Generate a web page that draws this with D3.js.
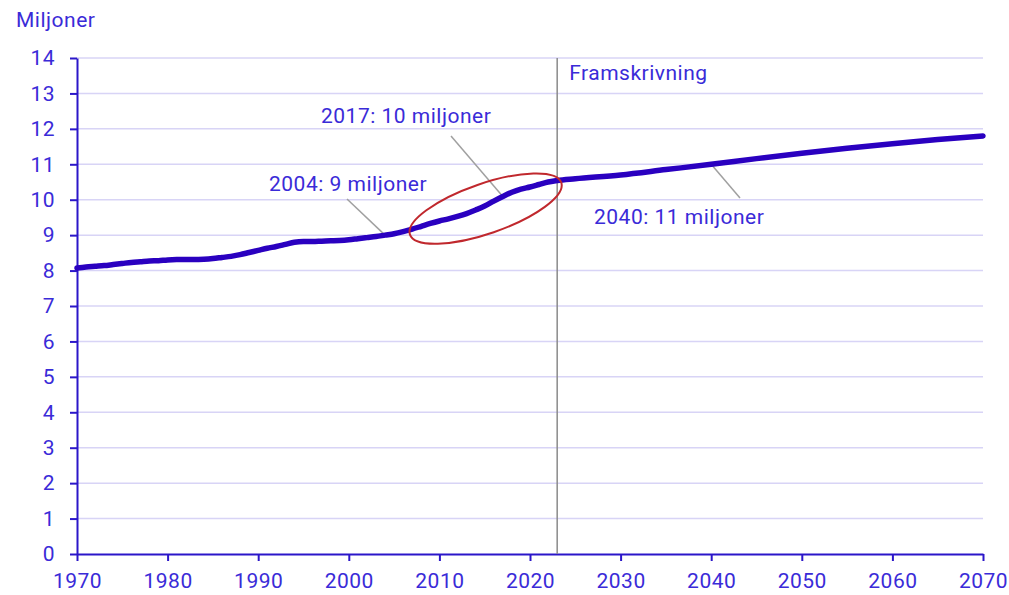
<!DOCTYPE html>
<html>
<head>
<meta charset="utf-8">
<script src="https://cdn.jsdelivr.net/npm/d3@7"></script>
<style>
  body { margin: 0; background: #fff; }
  svg text { font-family: Roboto, "Noto Sans", sans-serif; fill: #3a2bd8; letter-spacing: 0.5px; }
</style>
</head>
<body>
<div id="chart"></div>
<script>
// Sweden population, millions (observed up to 2023, projection after)
const years = [1970,1971,1972,1973,1974,1975,1976,1977,1978,1979,
  1980,1981,1982,1983,1984,1985,1986,1987,1988,1989,
  1990,1991,1992,1993,1994,1995,1996,1997,1998,1999,
  2000,2001,2002,2003,2004,2005,2006,2007,2008,2009,
  2010,2011,2012,2013,2014,2015,2016,2017,2018,2019,
  2020,2021,2022,2023,2025,2030,2035,2040,2045,2050,2055,2060,2065,2070];
const population = [8.07,8.10,8.12,8.14,8.17,8.20,8.23,8.25,8.27,8.28,
  8.30,8.31,8.31,8.31,8.32,8.34,8.37,8.40,8.45,8.51,
  8.57,8.63,8.68,8.74,8.80,8.82,8.82,8.83,8.84,8.85,
  8.87,8.90,8.93,8.96,9.00,9.04,9.10,9.17,9.25,9.33,
  9.40,9.46,9.53,9.61,9.71,9.82,9.96,10.09,10.21,10.30,
  10.36,10.43,10.50,10.54,10.59,10.70,10.85,11.00,11.16,11.31,11.45,11.58,11.70,11.80];
const yTicks = d3.range(0, 15);
const xTicks = d3.range(1970, 2071, 10);
const forecastStart = 2023;
const notes = [
  { label: "2004: 9 miljoner", year: 2004, value: 9.0, tx: 269, ty: 191, lx: 347, ly: 199 },
  { label: "2017: 10 miljoner", year: 2017, value: 10.09, tx: 321, ty: 123, lx: 451, ly: 136 },
  { label: "2040: 11 miljoner", year: 2040, value: 11.0, tx: 594, ty: 224, lx: 740, ly: 198 }
];

const width = 1009, height = 595;
const margin = { top: 58, right: 26, bottom: 41, left: 77 };

const svg = d3.select('#chart').append('svg')
  .attr('width', width)
  .attr('height', height);

const x = d3.scaleLinear().domain([1970, 2070]).range([margin.left, width - margin.right]);
const y = d3.scaleLinear().domain([0, 14]).range([height - margin.bottom, margin.top]);

// grid
svg.append('g').selectAll('line')
  .data(yTicks.filter(d => d > 0))
  .join('line')
  .attr('x1', x(1970)).attr('x2', x(2070))
  .attr('y1', d => y(d)).attr('y2', d => y(d))
  .attr('stroke', '#d8d4f6').attr('stroke-width', 1.5);

// y axis
const yAxis = svg.append('g')
  .attr('transform', `translate(${margin.left},0)`)
  .call(d3.axisLeft(y).tickValues(yTicks).tickSize(7).tickPadding(15).tickSizeOuter(0));
yAxis.selectAll('text').style('font-size', '21px');

// x axis
const xAxis = svg.append('g')
  .attr('transform', `translate(0,${y(0)})`)
  .call(d3.axisBottom(x).tickValues(xTicks).tickFormat(d3.format('d')).tickSize(7).tickPadding(12).tickSizeOuter(0));
xAxis.selectAll('text').style('font-size', '21px');

svg.selectAll('.domain, .tick line').attr('stroke', '#2b16c9').attr('stroke-width', 2);

svg.append('text')
  .attr('x', 16).attr('y', 27)
  .style('font-size', '21px')
  .text('Miljoner');

// forecast divider
svg.append('line')
  .attr('x1', x(forecastStart)).attr('x2', x(forecastStart))
  .attr('y1', y(14)).attr('y2', y(0))
  .attr('stroke', '#8a8a8a').attr('stroke-width', 1.5);

svg.append('text')
  .attr('x', x(forecastStart) + 12).attr('y', 80)
  .style('font-size', '21px')
  .text('Framskrivning');

// leader lines
svg.append('g').selectAll('line')
  .data(notes)
  .join('line')
  .attr('x1', d => d.lx).attr('y1', d => d.ly)
  .attr('x2', d => x(d.year)).attr('y2', d => y(d.value))
  .attr('stroke', '#a0a0a0').attr('stroke-width', 1.5);

// population line
const line = d3.line()
  .x((d, i) => x(years[i]))
  .y(d => y(d))
  .curve(d3.curveMonotoneX);

svg.append('path')
  .datum(population)
  .attr('d', line)
  .attr('fill', 'none')
  .attr('stroke', '#2a00c0')
  .attr('stroke-width', 5.5)
  .attr('stroke-linecap', 'round');

svg.append('g').selectAll('text')
  .data(notes)
  .join('text')
  .attr('x', d => d.tx).attr('y', d => d.ty)
  .style('font-size', '21px')
  .text(d => d.label);

// red ellipse highlighting 2010s growth
svg.append('ellipse')
  .attr('transform', `translate(${x(2015.1)},${y(9.75)}) rotate(-19)`)
  .attr('rx', 80).attr('ry', 25)
  .attr('fill', 'none')
  .attr('stroke', '#c0282d')
  .attr('stroke-width', 2);
</script>
</body>
</html>
